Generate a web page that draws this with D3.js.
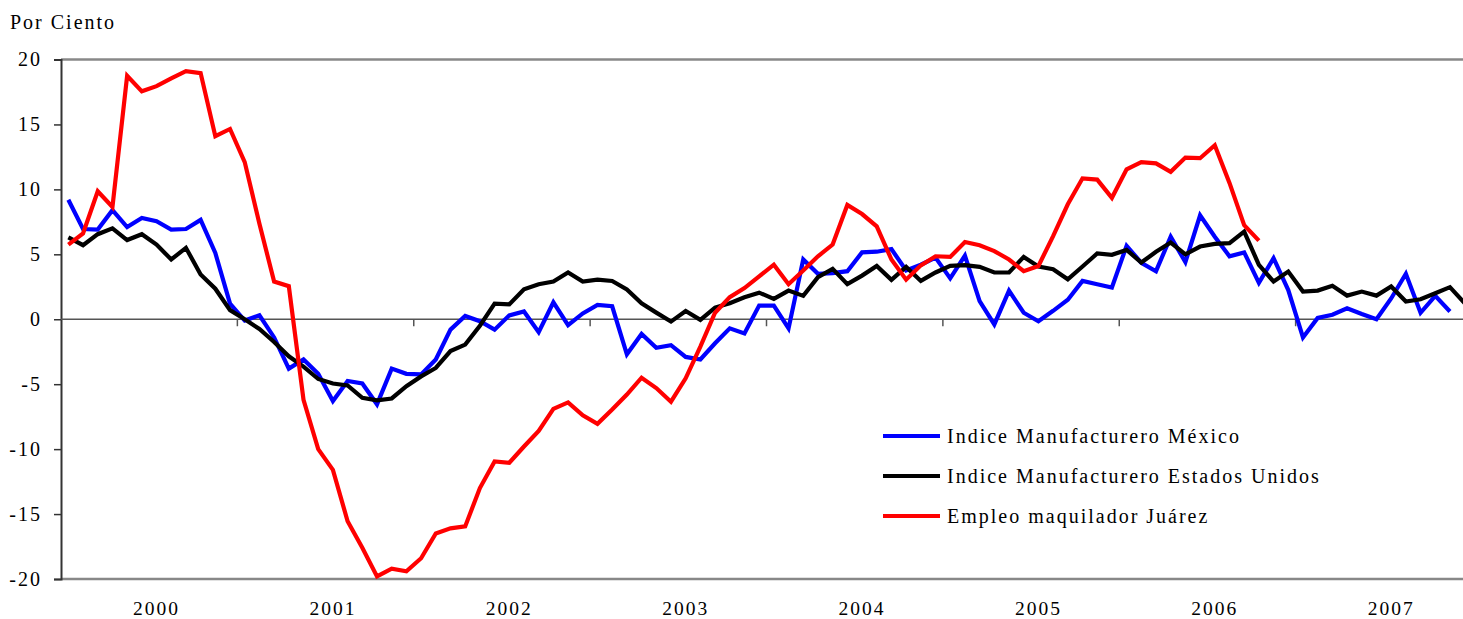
<!DOCTYPE html>
<html>
<head>
<meta charset="utf-8">
<script src="https://cdn.jsdelivr.net/npm/d3@7"></script>
<style>
  body { margin: 0; background: #fff; }
  svg text { font-family: "Liberation Serif", "Times New Roman", Times, serif; fill: #000; }
</style>
</head>
<body>
<div id="chart"></div>
<script>
// monthly categories, Jan 2000 .. Dec 2007
const months = d3.range(96).map((i) => `${2000 + Math.floor(i / 12)}-${String((i % 12) + 1).padStart(2, "0")}`);
const years = ["2000", "2001", "2002", "2003", "2004", "2005", "2006", "2007"];
const yTicks = [-20, -15, -10, -5, 0, 5, 10, 15, 20];

const mexico = [
  9.2, 6.95, 6.9, 8.4, 7.1, 7.8, 7.55, 6.9, 6.95, 7.65, 5.1, 1.2,
  -0.1, 0.3, -1.4, -3.8, -3.1, -4.2, -6.3, -4.75, -4.95, -6.55, -3.8, -4.2,
  -4.25, -3.1, -0.8, 0.25, -0.15, -0.8, 0.3, 0.6, -1.0, 1.3, -0.45, 0.45,
  1.1, 1.0, -2.7, -1.13, -2.2, -2.0, -2.9, -3.1, -1.85, -0.7, -1.1, 1.05,
  1.05, -0.7, 4.6, 3.5, 3.55, 3.7, 5.15, 5.2, 5.4, 3.75, 4.2, 4.75,
  3.15, 4.9, 1.4, -0.4, 2.2, 0.5, -0.15, 0.65, 1.5, 2.95, 2.7, 2.45,
  5.65, 4.35, 3.7, 6.35, 4.4, 8.0, 6.35, 4.85, 5.15, 2.8, 4.7, 2.25,
  -1.4, 0.1, 0.35, 0.85, 0.4, 0.0, 1.6, 3.5, 0.5, 1.8, 0.6
];
const usa = [
  6.3, 5.7, 6.55, 7.0, 6.1, 6.55, 5.75, 4.6, 5.5, 3.45, 2.35, 0.7,
  0.0, -0.75, -1.75, -2.85, -3.65, -4.6, -4.95, -5.1, -6.05, -6.25, -6.1, -5.15,
  -4.4, -3.75, -2.45, -1.95, -0.5, 1.2, 1.15, 2.3, 2.7, 2.9, 3.6, 2.9,
  3.05, 2.95, 2.3, 1.23, 0.51, -0.18, 0.64, -0.05, 0.9, 1.23, 1.69, 2.05,
  1.57, 2.21, 1.8, 3.24, 3.88, 2.7, 3.36, 4.1, 3.03, 4.03, 2.95, 3.6,
  4.11, 4.16, 4.03, 3.6, 3.6, 4.8, 4.06, 3.85, 3.08, 4.06, 5.06, 4.96,
  5.34, 4.37, 5.19, 5.91, 5.0, 5.6, 5.8, 5.86, 6.75, 4.19, 2.9, 3.67,
  2.13, 2.21, 2.57, 1.82, 2.13, 1.82, 2.52, 1.36, 1.54, 2.0, 2.47, 1.23
];
const juarez = [
  5.75, 6.6, 9.85, 8.65, 18.75, 17.55, 17.95, 18.55, 19.1, 18.95, 14.1, 14.65,
  12.1, 7.35, 2.9, 2.55, -6.2, -10.0, -11.6, -15.55, -17.6, -19.8, -19.2, -19.4,
  -18.4, -16.5, -16.1, -15.95, -13.0, -10.95, -11.05, -9.8, -8.6, -6.9, -6.4, -7.4,
  -8.05, -6.95, -5.8, -4.5, -5.3, -6.35, -4.55, -2.1, 0.5, 1.7, 2.4, 3.3,
  4.2, 2.7, 3.75, 4.85, 5.75, 8.8, 8.1, 7.15, 4.6, 3.05, 4.15, 4.85,
  4.8, 5.95, 5.7, 5.25, 4.6, 3.7, 4.1, 6.4, 8.85, 10.85, 10.75, 9.35,
  11.55, 12.1, 12.0, 11.35, 12.45, 12.4, 13.4, 10.5, 7.25, 6.05
];

const seriesNames = [
  "Indice Manufacturero México",
  "Indice Manufacturero Estados Unidos",
  "Empleo maquilador Juárez"
];
const seriesColors = ["#0000ff", "#000000", "#ff0000"];
const seriesValues = [mexico, usa, juarez];

const width = 1463;
const height = 619;
const plot = { left: 61, right: 1472, top: 59.5, bottom: 579 };
const serif = "'Liberation Serif', 'Times New Roman', Times, serif";

const svg = d3
  .select("#chart")
  .append("svg")
  .attr("width", width)
  .attr("height", height)
  .style("display", "block");

const x = d3.scaleBand().domain(months).range([plot.left, plot.right]).padding(0);
const xc = (m) => x(m) + x.bandwidth() / 2;
const y = d3.scaleLinear().domain([-20, 20]).range([plot.bottom, plot.top]);

// frame top / bottom
svg.append("line").attr("x1", plot.left).attr("x2", width).attr("y1", y(20)).attr("y2", y(20))
  .attr("stroke", "#888").attr("stroke-width", 2.5);
svg.append("line").attr("x1", plot.left).attr("x2", width).attr("y1", y(-20)).attr("y2", y(-20))
  .attr("stroke", "#888").attr("stroke-width", 2.5);

// y axis
const yAxis = svg
  .append("g")
  .attr("transform", `translate(${plot.left},0)`)
  .call(d3.axisLeft(y).tickValues(yTicks).tickSize(7).tickPadding(12).tickFormat((d) => String(d)));
yAxis.attr("font-family", serif);
yAxis.select(".domain").attr("stroke", "#333").attr("stroke-width", 2);
yAxis.selectAll(".tick line").attr("stroke", "#333").attr("stroke-width", 1.5);
yAxis.selectAll(".tick text")
  .style("font-family", serif)
  .style("font-size", "20px")
  .style("letter-spacing", "2px")
  .attr("fill", "#000");

// category axis at zero with year boundary ticks
svg.append("line").attr("x1", plot.left).attr("x2", width).attr("y1", y(0)).attr("y2", y(0))
  .attr("stroke", "#555").attr("stroke-width", 1.5);
svg
  .append("g")
  .selectAll("line")
  .data(months.filter((m, i) => i % 12 === 0 && i > 0))
  .join("line")
  .attr("x1", (m) => x(m))
  .attr("x2", (m) => x(m))
  .attr("y1", y(0))
  .attr("y2", y(0) + 7)
  .attr("stroke", "#555")
  .attr("stroke-width", 1.5);

// year labels under the July month of each year
const xAxis = svg
  .append("g")
  .attr("transform", `translate(0,${plot.bottom})`)
  .call(
    d3.axisBottom(x)
      .tickValues(years.map((yr) => `${yr}-07`))
      .tickSize(0)
      .tickPadding(22)
      .tickFormat((m) => m.slice(0, 4))
  );
xAxis.attr("font-family", serif);
xAxis.select(".domain").remove();
xAxis.selectAll(".tick text")
  .style("font-family", serif)
  .style("font-size", "19.5px")
  .style("letter-spacing", "2px")
  .attr("fill", "#000");

svg.append("text").attr("x", 10).attr("y", 29)
  .style("font-family", serif).style("font-size", "20px")
  .style("letter-spacing", "2px").text("Por Ciento");

// series
const line = d3
  .line()
  .x((d, i) => xc(months[i]))
  .y((d) => y(d));

seriesValues.forEach((vals, k) => {
  svg.append("path")
    .datum(vals)
    .attr("fill", "none")
    .attr("stroke", seriesColors[k])
    .attr("stroke-width", 4.2)
    .attr("stroke-linejoin", "miter")
    .attr("d", line);
});

// legend
const legend = svg.append("g").attr("transform", "translate(883,436)");
seriesNames.forEach((name, k) => {
  const row = legend.append("g").attr("transform", `translate(0,${k * 40})`);
  row.append("line").attr("x1", 0).attr("x2", 57).attr("stroke", seriesColors[k]).attr("stroke-width", 4.2);
  row.append("text").attr("x", 64).attr("y", 7)
    .style("font-family", serif).style("font-size", "20px")
    .style("letter-spacing", "2px").text(name);
});
</script>
</body>
</html>
